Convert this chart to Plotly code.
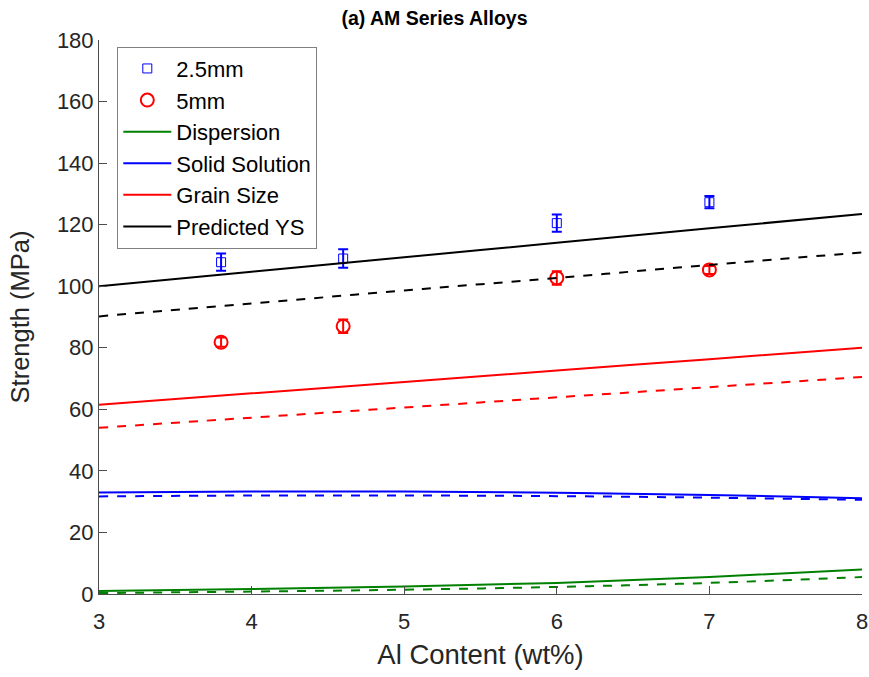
import plotly.graph_objects as go

# Measured yield strength
al_exp = [3.8, 4.6, 6.0, 7.0]
ys_25mm = [107.8, 109.0, 120.5, 127.3]
err_25mm = [2.8, 3.0, 2.8, 2.0]
ys_5mm = [81.8, 87.0, 102.7, 105.3]
err_5mm = [1.5, 2.2, 2.2, 1.3]

# Model contributions (solid = 2.5 mm, dashed = 5 mm)
al_model = [3, 4, 5, 6, 7, 8]
disp_25 = [1.0, 1.6, 2.4, 3.6, 5.5, 8.0]
disp_5 = [0.3, 0.8, 1.4, 2.3, 3.6, 5.5]
ss_25 = [33.0, 33.3, 33.3, 32.9, 32.2, 31.1]
ss_5 = [31.7, 32.0, 32.0, 31.8, 31.3, 30.6]
gs_25 = [61.5, 65.2, 68.9, 72.6, 76.3, 80.0]
gs_5 = [54.0, 57.3, 60.6, 63.9, 67.2, 70.5]
pys_25 = [100.0, 104.7, 109.4, 114.1, 118.8, 123.5]
pys_5 = [90.2, 94.4, 98.6, 102.7, 106.9, 111.0]

GREEN = "#008000"
BLUE = "#0000ff"
RED = "#ff0000"
BLACK = "#000000"

fig = go.Figure()

fig.add_trace(go.Scatter(
    x=al_exp, y=ys_25mm, mode="markers", name="2.5mm",
    marker=dict(symbol="square-open", size=9, color=BLUE, line=dict(width=1)),
    error_y=dict(type="data", array=err_25mm, color=BLUE, thickness=2, width=5),
))
fig.add_trace(go.Scatter(
    x=al_exp, y=ys_5mm, mode="markers", name="5mm",
    marker=dict(symbol="circle-open", size=13, color=RED, line=dict(width=2)),
    error_y=dict(type="data", array=err_5mm, color=RED, thickness=2, width=5),
))

lines = [
    ("Dispersion", GREEN, disp_25, disp_5),
    ("Solid Solution", BLUE, ss_25, ss_5),
    ("Grain Size", RED, gs_25, gs_5),
    ("Predicted YS", BLACK, pys_25, pys_5),
]
for name, col, y_solid, y_dash in lines:
    fig.add_trace(go.Scatter(
        x=al_model, y=y_solid, mode="lines", name=name,
        line=dict(color=col, width=2, shape="spline"),
    ))
for name, col, y_solid, y_dash in lines:
    fig.add_trace(go.Scatter(
        x=al_model, y=y_dash, mode="lines", name=name + " (5mm)",
        showlegend=False,
        line=dict(color=col, width=2, dash="dash", shape="spline"),
    ))

axis_col = "#4d4d4d"
font_family = "Liberation Sans, Arial, sans-serif"

fig.update_layout(
    width=869, height=677,
    paper_bgcolor="white", plot_bgcolor="white",
    margin=dict(l=99, r=7, t=40, b=83, autoexpand=False),
    font=dict(family=font_family, size=22, color="#262626"),
    title=dict(text="<b>(a) AM Series Alloys</b>", x=0.5, xanchor="center",
               y=0.973, yanchor="middle", font=dict(size=19.5, color="#000")),
    showlegend=True,
    legend=dict(x=0.024, y=0.988, xanchor="left", yanchor="top",
                bgcolor="white", bordercolor="#808080", borderwidth=1,
                font=dict(size=22, color="#000"), tracegroupgap=0,
                itemwidth=48),
    xaxis=dict(range=[3, 8], dtick=1, showgrid=False, zeroline=False,
               showline=True, linecolor=axis_col, linewidth=1,
               ticks="inside", ticklen=8, tickcolor=axis_col,
               automargin=False, ticklabelstandoff=8,
               title=dict(text="Al Content (wt%)", standoff=11,
                          font=dict(size=27.5)),
               tickfont=dict(size=22)),
    yaxis=dict(range=[0, 180], dtick=20, showgrid=False, zeroline=False,
               showline=True, linecolor=axis_col, linewidth=1,
               ticks="inside", ticklen=8, tickcolor=axis_col,
               automargin=False,
               title=dict(text="Strength (MPa)", standoff=19,
                          font=dict(size=25.5)),
               tickfont=dict(size=22)),
)

fig.write_html("out.html")
